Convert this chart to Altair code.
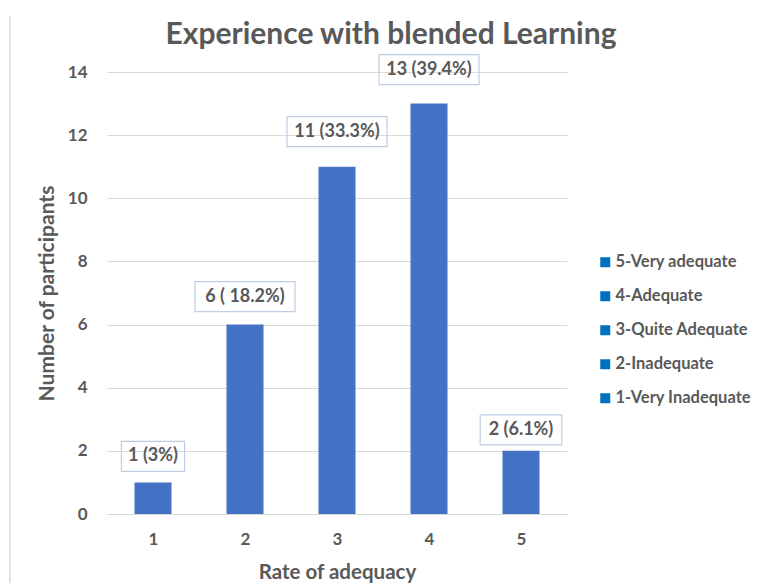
import altair as alt
import pandas as pd

# ---- data ----
rates = [1, 2, 3, 4, 5]
counts = [1, 6, 11, 13, 2]
labels = ["1 (3%)", "6 ( 18.2%)", "11 (33.3%)", "13 (39.4%)", "2 (6.1%)"]
legend_labels = ["5-Very adequate", "4-Adequate", "3-Quite Adequate",
                 "2-Inadequate", "1-Very Inadequate"]
y_ticks = [0, 2, 4, 6, 8, 10, 12, 14]

# ---- style ----
W, H = 460, 442
PX_X = W / 5.0
PX_Y = H / 14.0
label_lift_px = [26, 28, 35, 34, 21]   # label nudges above bars (px)
BOX_H = 30
FONT = "Lato"
GREY = "#595959"
BAR = "#4472C4"
LEG = "#0070C0"

df = pd.DataFrame({"rate": rates, "count": counts, "label": labels,
                   "lift": label_lift_px})
df["boxw"] = [9.2 * len(s) + 8 for s in labels]

xs = alt.Scale(domain=[0.5, 5.5], nice=False, zero=False, padding=0)
ys = alt.Scale(domain=[0, 14], nice=False)

base = alt.Chart(df)

bars = base.mark_bar(size=37, color=BAR).encode(
    x=alt.X("rate:Q", scale=xs,
            axis=alt.Axis(values=rates, format="d", title="Rate of adequacy",
                          grid=False, ticks=False, domainColor="#D9D9D9",
                          labelFont=FONT, labelFontSize=17, labelFontWeight="bold",
                          labelColor=GREY, labelPadding=17,
                          titleFont=FONT, titleFontSize=20.5, titleFontWeight="bold",
                          titleColor=GREY, titleY=58, titleBaseline="middle")),
    y=alt.Y("count:Q", scale=ys,
            axis=alt.Axis(values=y_ticks, title="Number of participants",
                          grid=True, gridColor="#D9D9D9", domain=False, ticks=False,
                          labelFont=FONT, labelFontSize=17, labelFontWeight="bold",
                          labelColor=GREY, labelPadding=20,
                          titleFont=FONT, titleFontSize=21, titleFontWeight="bold",
                          titleColor=GREY, titleX=-60, titleAngle=-90,
                          titleBaseline="middle", titleAlign="center")),
)

lab = base.transform_calculate(
    yc=f"datum.count + datum.lift / {PX_Y}",
    y1=f"datum.count + datum.lift / {PX_Y} - {BOX_H / 2} / {PX_Y}",
    y2=f"datum.count + datum.lift / {PX_Y} + {BOX_H / 2} / {PX_Y}",
    x1=f"datum.rate - datum.boxw / 2 / {PX_X}",
    x2=f"datum.rate + datum.boxw / 2 / {PX_X}",
)

boxes = lab.mark_rect(fill=None, stroke="#BFCDE4", strokeWidth=1.2).encode(
    x=alt.X("x1:Q", scale=xs), x2="x2:Q",
    y=alt.Y("y1:Q", scale=ys), y2="y2:Q",
)

texts = lab.mark_text(font=FONT, fontSize=18, fontWeight="bold", color=GREY,
                      baseline="middle", align="center").encode(
    x=alt.X("rate:Q", scale=xs),
    y=alt.Y("yc:Q", scale=ys),
    text="label:N",
)

legend_layer = alt.Chart(pd.DataFrame({"cat": legend_labels})).mark_square(
    opacity=0).encode(
    color=alt.Color("cat:N",
                    scale=alt.Scale(domain=legend_labels, range=[LEG] * 5),
                    legend=alt.Legend(orient="none", legendX=490, legendY=182,
                                      title=None, symbolType="square",
                                      symbolSize=100, symbolOpacity=1,
                                      symbolStrokeWidth=0, labelFont=FONT,
                                      labelFontWeight="bold", labelFontSize=16.5,
                                      labelColor=GREY, rowPadding=17,
                                      labelOffset=2, padding=0)),
)

frame_line = alt.Chart(pd.DataFrame({"a": [0]})).mark_rule(
    color="#E3E3E3", strokeWidth=2).encode(
    x=alt.value(-97), y=alt.value(-56), y2=alt.value(H + 80))

chart = alt.layer(frame_line, bars, boxes, texts, legend_layer).properties(
    width=W, height=H,
    title=alt.Title("Experience with blended Learning", font=FONT, fontSize=30,
                    fontWeight="bold", color=GREY, anchor="middle", dx=54,
                    dy=39),
    autosize=alt.AutoSizeParams(type="none"),
    padding={"left": 99, "top": 64, "right": 187, "bottom": 69},
).configure_view(stroke=None)

chart.save("out.html", embed_options={"renderer": "svg", "actions": False})
